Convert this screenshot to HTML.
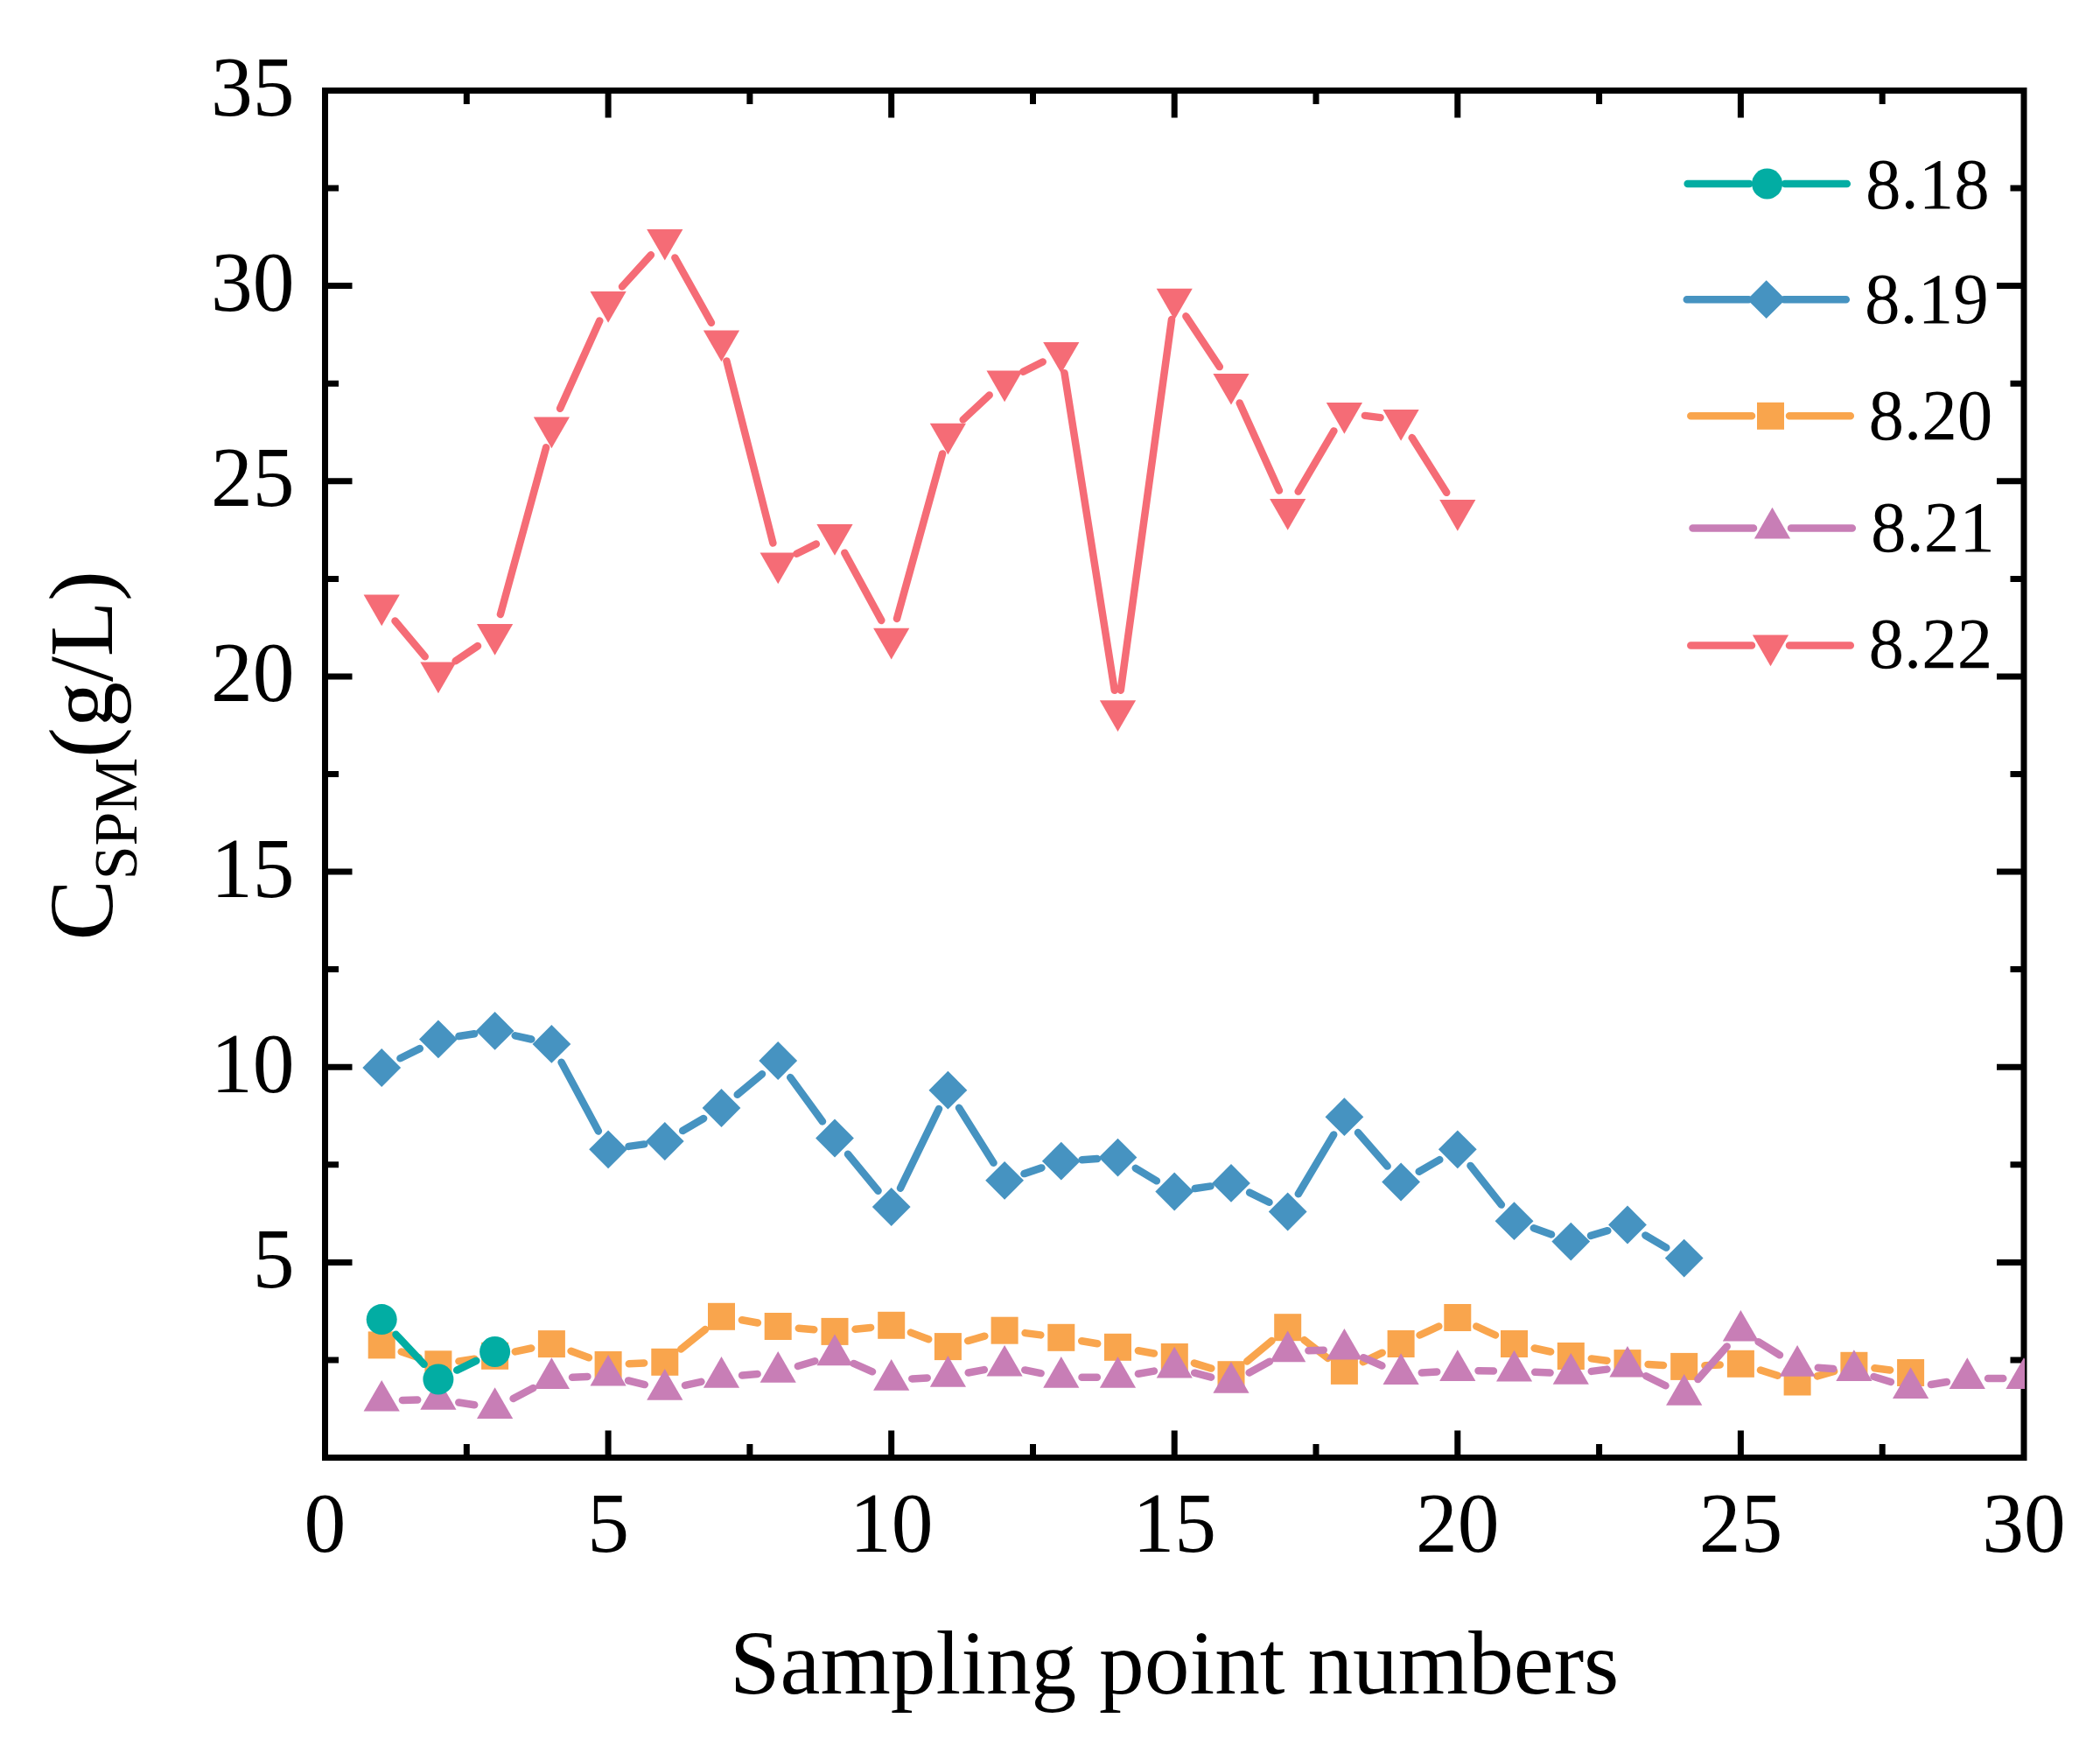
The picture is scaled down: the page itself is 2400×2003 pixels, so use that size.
<!DOCTYPE html>
<html><head><meta charset="utf-8"><title>Chart</title>
<style>
html,body{margin:0;padding:0;background:#fff;}
body{width:2400px;height:2003px;overflow:hidden;}
svg{display:block;font-family:"Liberation Serif",serif;fill:#000;}
</style></head><body>
<svg width="2400" height="2003" viewBox="0 0 2400 2003">
<rect width="2400" height="2003" fill="#fff"/>
<rect x="371.5" y="103.5" width="1941.5" height="1562.0" fill="none" stroke="#000" stroke-width="7"/>
<path d="M533.3 1665.5V1650.0M533.3 103.5V119.0M695.1 1665.5V1634.5M695.1 103.5V134.5M856.9 1665.5V1650.0M856.9 103.5V119.0M1018.7 1665.5V1634.5M1018.7 103.5V134.5M1180.5 1665.5V1650.0M1180.5 103.5V119.0M1342.2 1665.5V1634.5M1342.2 103.5V134.5M1504.0 1665.5V1650.0M1504.0 103.5V119.0M1665.8 1665.5V1634.5M1665.8 103.5V134.5M1827.6 1665.5V1650.0M1827.6 103.5V119.0M1989.4 1665.5V1634.5M1989.4 103.5V134.5M2151.2 1665.5V1650.0M2151.2 103.5V119.0M371.5 1553.9H387.0M2313.0 1553.9H2297.5M371.5 1442.4H402.5M2313.0 1442.4H2282.0M371.5 1330.8H387.0M2313.0 1330.8H2297.5M371.5 1219.2H402.5M2313.0 1219.2H2282.0M371.5 1107.6H387.0M2313.0 1107.6H2297.5M371.5 996.1H402.5M2313.0 996.1H2282.0M371.5 884.5H387.0M2313.0 884.5H2297.5M371.5 772.9H402.5M2313.0 772.9H2282.0M371.5 661.4H387.0M2313.0 661.4H2297.5M371.5 549.8H402.5M2313.0 549.8H2282.0M371.5 438.2H387.0M2313.0 438.2H2297.5M371.5 326.6H402.5M2313.0 326.6H2282.0M371.5 215.1H387.0M2313.0 215.1H2297.5" stroke="#000" stroke-width="7" fill="none"/>
<clipPath id="cp"><rect x="371.5" y="103.5" width="1942.5" height="1562"/></clipPath>
<g clip-path="url(#cp)">
<g><path d="M457.4 1209.3L479.8 1198.1M524.4 1184.0L542.2 1181.3M588.7 1183.3L607.3 1187.5M641.6 1213.8L683.9 1292.4M718.5 1309.9L736.3 1307.4M780.2 1292.0L804.1 1278.0M842.7 1250.8L871.0 1227.2M903.2 1231.1L940.0 1281.4M969.0 1318.8L1003.6 1360.7M1029.0 1357.7L1073.0 1267.0M1096.0 1265.8L1135.5 1328.7M1170.5 1341.1L1190.4 1334.4M1236.5 1325.2L1253.9 1324.1M1297.8 1334.8L1321.9 1349.3M1365.7 1358.0L1383.5 1355.4M1428.1 1362.6L1450.5 1373.8M1483.8 1364.2L1524.2 1296.5M1552.0 1294.1L1585.6 1332.6M1621.7 1338.7L1645.3 1325.1M1680.5 1331.9L1715.9 1376.6M1752.8 1403.3L1773.0 1410.5M1818.0 1411.9L1837.3 1406.2M1880.4 1411.5L1904.3 1425.6" stroke="#4693C1" stroke-width="8.5" stroke-linecap="round" fill="none"/><path d="M436.2 1198.1L458.1 1220.0L436.2 1241.9L414.3 1220.0Z" fill="#4693C1"/><path d="M500.9 1165.5L522.8 1187.4L500.9 1209.3L479.0 1187.4Z" fill="#4693C1"/><path d="M565.6 1156.0L587.5 1177.9L565.6 1199.8L543.8 1177.9Z" fill="#4693C1"/><path d="M630.4 1171.0L652.3 1192.9L630.4 1214.8L608.5 1192.9Z" fill="#4693C1"/><path d="M695.1 1291.4L717.0 1313.3L695.1 1335.2L673.2 1313.3Z" fill="#4693C1"/><path d="M759.8 1282.1L781.7 1304.0L759.8 1325.9L737.9 1304.0Z" fill="#4693C1"/><path d="M824.5 1244.1L846.4 1266.0L824.5 1287.9L802.6 1266.0Z" fill="#4693C1"/><path d="M889.2 1190.1L911.1 1212.0L889.2 1233.9L867.3 1212.0Z" fill="#4693C1"/><path d="M954.0 1278.6L975.9 1300.5L954.0 1322.4L932.1 1300.5Z" fill="#4693C1"/><path d="M1018.7 1357.1L1040.6 1379.0L1018.7 1400.9L996.8 1379.0Z" fill="#4693C1"/><path d="M1083.4 1223.8L1105.3 1245.7L1083.4 1267.6L1061.5 1245.7Z" fill="#4693C1"/><path d="M1148.1 1326.9L1170.0 1348.8L1148.1 1370.7L1126.2 1348.8Z" fill="#4693C1"/><path d="M1212.8 1304.8L1234.7 1326.7L1212.8 1348.6L1190.9 1326.7Z" fill="#4693C1"/><path d="M1277.5 1300.7L1299.4 1322.6L1277.5 1344.5L1255.6 1322.6Z" fill="#4693C1"/><path d="M1342.2 1339.6L1364.2 1361.5L1342.2 1383.4L1320.3 1361.5Z" fill="#4693C1"/><path d="M1407.0 1330.0L1428.9 1351.9L1407.0 1373.8L1385.1 1351.9Z" fill="#4693C1"/><path d="M1471.7 1362.6L1493.6 1384.5L1471.7 1406.4L1449.8 1384.5Z" fill="#4693C1"/><path d="M1536.4 1254.3L1558.3 1276.2L1536.4 1298.1L1514.5 1276.2Z" fill="#4693C1"/><path d="M1601.1 1328.6L1623.0 1350.5L1601.1 1372.4L1579.2 1350.5Z" fill="#4693C1"/><path d="M1665.8 1291.4L1687.7 1313.3L1665.8 1335.2L1643.9 1313.3Z" fill="#4693C1"/><path d="M1730.5 1373.3L1752.5 1395.2L1730.5 1417.1L1708.6 1395.2Z" fill="#4693C1"/><path d="M1795.3 1396.7L1817.2 1418.6L1795.3 1440.5L1773.4 1418.6Z" fill="#4693C1"/><path d="M1860.0 1377.6L1881.9 1399.5L1860.0 1421.4L1838.1 1399.5Z" fill="#4693C1"/><path d="M1924.7 1415.7L1946.6 1437.6L1924.7 1459.5L1902.8 1437.6Z" fill="#4693C1"/></g>
<g><path d="M458.7 1544.5L478.5 1551.2M524.4 1555.4L542.2 1552.7M588.8 1544.4L607.2 1540.5M652.6 1543.8L672.9 1551.3M718.8 1558.3L736.1 1557.5M778.3 1541.5L806.0 1519.1M847.9 1508.3L865.9 1511.5M912.8 1517.7L930.3 1519.2M977.5 1518.8L995.1 1516.9M1040.9 1522.6L1061.2 1530.3M1106.2 1532.1L1125.3 1526.7M1171.6 1523.1L1189.3 1525.4M1236.2 1532.3L1254.2 1535.3M1300.9 1543.3L1318.9 1546.5M1364.9 1557.6L1384.3 1563.6M1425.2 1555.5L1453.5 1531.9M1490.5 1531.1L1517.6 1552.0M1557.8 1556.2L1579.7 1545.7M1622.6 1525.5L1644.3 1515.5M1687.3 1515.5L1709.0 1525.5M1753.7 1540.5L1772.1 1544.5M1818.8 1552.4L1836.5 1554.7M1883.6 1559.0L1901.0 1560.0M1948.4 1560.3L1965.7 1559.4M2012.0 1565.5L2031.6 1571.8M2076.9 1572.4L2096.1 1566.9M2142.4 1563.3L2160.1 1565.5" stroke="#F9A54D" stroke-width="8.5" stroke-linecap="round" fill="none"/><rect x="420.7" y="1521.4" width="31.0" height="31.0" fill="#F9A54D"/><rect x="485.4" y="1543.3" width="31.0" height="31.0" fill="#F9A54D"/><rect x="550.1" y="1533.8" width="31.0" height="31.0" fill="#F9A54D"/><rect x="614.9" y="1520.1" width="31.0" height="31.0" fill="#F9A54D"/><rect x="679.6" y="1544.0" width="31.0" height="31.0" fill="#F9A54D"/><rect x="744.3" y="1540.8" width="31.0" height="31.0" fill="#F9A54D"/><rect x="809.0" y="1488.8" width="31.0" height="31.0" fill="#F9A54D"/><rect x="873.7" y="1500.0" width="31.0" height="31.0" fill="#F9A54D"/><rect x="938.5" y="1505.9" width="31.0" height="31.0" fill="#F9A54D"/><rect x="1003.2" y="1498.8" width="31.0" height="31.0" fill="#F9A54D"/><rect x="1067.9" y="1523.1" width="31.0" height="31.0" fill="#F9A54D"/><rect x="1132.6" y="1504.7" width="31.0" height="31.0" fill="#F9A54D"/><rect x="1197.3" y="1512.8" width="31.0" height="31.0" fill="#F9A54D"/><rect x="1262.0" y="1523.8" width="31.0" height="31.0" fill="#F9A54D"/><rect x="1326.8" y="1535.0" width="31.0" height="31.0" fill="#F9A54D"/><rect x="1391.5" y="1555.2" width="31.0" height="31.0" fill="#F9A54D"/><rect x="1456.2" y="1501.2" width="31.0" height="31.0" fill="#F9A54D"/><rect x="1520.9" y="1550.9" width="31.0" height="31.0" fill="#F9A54D"/><rect x="1585.6" y="1520.0" width="31.0" height="31.0" fill="#F9A54D"/><rect x="1650.3" y="1490.0" width="31.0" height="31.0" fill="#F9A54D"/><rect x="1715.0" y="1520.0" width="31.0" height="31.0" fill="#F9A54D"/><rect x="1779.8" y="1534.0" width="31.0" height="31.0" fill="#F9A54D"/><rect x="1844.5" y="1542.1" width="31.0" height="31.0" fill="#F9A54D"/><rect x="1909.2" y="1545.9" width="31.0" height="31.0" fill="#F9A54D"/><rect x="1973.9" y="1542.8" width="31.0" height="31.0" fill="#F9A54D"/><rect x="2038.6" y="1563.5" width="31.0" height="31.0" fill="#F9A54D"/><rect x="2103.4" y="1544.8" width="31.0" height="31.0" fill="#F9A54D"/><rect x="2168.1" y="1553.0" width="31.0" height="31.0" fill="#F9A54D"/></g>
<g><path d="M459.9 1600.0L477.2 1599.5M524.3 1602.5L542.2 1605.3M586.6 1598.0L609.4 1586.0M654.0 1573.8L671.4 1572.9M718.1 1577.5L736.8 1582.1M783.0 1582.9L801.4 1578.8M848.1 1571.6L865.6 1570.1M911.9 1561.0L931.3 1555.2M975.6 1557.9L997.0 1567.3M1042.3 1575.4L1059.7 1574.4M1106.7 1568.5L1124.8 1565.1M1171.3 1565.4L1189.6 1569.1M1236.5 1573.8L1253.8 1573.8M1300.9 1569.8L1318.9 1566.6M1365.2 1568.7L1384.1 1573.7M1427.7 1568.4L1450.9 1555.7M1495.4 1543.3L1512.7 1542.7M1558.1 1551.2L1579.4 1560.5M1624.8 1568.5L1642.2 1567.5M1689.5 1566.2L1706.9 1566.4M1754.2 1567.8L1771.6 1568.6M1818.8 1566.9L1836.5 1564.6M1881.2 1572.2L1903.5 1583.3M1940.4 1576.1L1973.7 1538.4M2009.6 1533.2L2034.0 1548.3M2077.8 1562.7L2095.2 1564.1M2141.5 1573.0L2160.9 1579.0M2206.9 1582.0L2224.9 1579.0M2272.0 1575.0L2289.3 1575.0" stroke="#C87EB6" stroke-width="8.5" stroke-linecap="round" fill="none"/><path d="M436.2 1576.9L456.8 1612.6L415.6 1612.6Z" fill="#C87EB6"/><path d="M500.9 1575.0L521.5 1610.7L480.3 1610.7Z" fill="#C87EB6"/><path d="M565.6 1585.2L586.2 1620.9L545.0 1620.9Z" fill="#C87EB6"/><path d="M630.4 1551.2L651.0 1586.9L609.8 1586.9Z" fill="#C87EB6"/><path d="M695.1 1547.9L715.7 1583.6L674.5 1583.6Z" fill="#C87EB6"/><path d="M759.8 1564.1L780.4 1599.8L739.2 1599.8Z" fill="#C87EB6"/><path d="M824.5 1550.0L845.1 1585.7L803.9 1585.7Z" fill="#C87EB6"/><path d="M889.2 1544.1L909.8 1579.8L868.6 1579.8Z" fill="#C87EB6"/><path d="M954.0 1524.5L974.6 1560.2L933.4 1560.2Z" fill="#C87EB6"/><path d="M1018.7 1553.1L1039.3 1588.8L998.1 1588.8Z" fill="#C87EB6"/><path d="M1083.4 1549.1L1104.0 1584.8L1062.8 1584.8Z" fill="#C87EB6"/><path d="M1148.1 1536.9L1168.7 1572.6L1127.5 1572.6Z" fill="#C87EB6"/><path d="M1212.8 1550.0L1233.4 1585.7L1192.2 1585.7Z" fill="#C87EB6"/><path d="M1277.5 1550.0L1298.1 1585.7L1256.9 1585.7Z" fill="#C87EB6"/><path d="M1342.2 1538.8L1362.8 1574.5L1321.7 1574.5Z" fill="#C87EB6"/><path d="M1407.0 1556.0L1427.6 1591.7L1386.4 1591.7Z" fill="#C87EB6"/><path d="M1471.7 1520.5L1492.3 1556.2L1451.1 1556.2Z" fill="#C87EB6"/><path d="M1536.4 1517.9L1557.0 1553.6L1515.8 1553.6Z" fill="#C87EB6"/><path d="M1601.1 1546.2L1621.7 1581.9L1580.5 1581.9Z" fill="#C87EB6"/><path d="M1665.8 1542.2L1686.4 1577.9L1645.2 1577.9Z" fill="#C87EB6"/><path d="M1730.5 1542.8L1751.1 1578.5L1710.0 1578.5Z" fill="#C87EB6"/><path d="M1795.3 1546.0L1815.9 1581.7L1774.7 1581.7Z" fill="#C87EB6"/><path d="M1860.0 1537.9L1880.6 1573.6L1839.4 1573.6Z" fill="#C87EB6"/><path d="M1924.7 1570.0L1945.3 1605.7L1904.1 1605.7Z" fill="#C87EB6"/><path d="M1989.4 1496.9L2010.0 1532.6L1968.8 1532.6Z" fill="#C87EB6"/><path d="M2054.1 1537.0L2074.7 1572.7L2033.5 1572.7Z" fill="#C87EB6"/><path d="M2118.9 1542.2L2139.5 1577.9L2098.3 1577.9Z" fill="#C87EB6"/><path d="M2183.6 1562.2L2204.2 1597.9L2163.0 1597.9Z" fill="#C87EB6"/><path d="M2248.3 1551.2L2268.9 1586.9L2227.7 1586.9Z" fill="#C87EB6"/><path d="M2313.0 1551.2L2333.6 1586.9L2292.4 1586.9Z" fill="#C87EB6"/></g>
<g><path d="M451.5 709.5L485.7 750.3M520.6 755.2L546.0 738.1M571.9 702.0L624.1 511.3M640.1 466.8L685.3 366.6M711.0 327.5L743.9 291.3M771.4 294.5L812.9 368.8M830.4 412.5L883.4 620.5M910.4 632.8L932.8 621.6M965.3 631.7L1007.3 708.9M1025.0 706.9L1077.1 518.4M1100.7 479.5L1130.7 451.5M1169.3 424.7L1191.7 413.5M1216.5 426.2L1273.8 788.8M1280.8 788.7L1339.0 365.1M1355.4 361.3L1393.8 419.1M1416.7 460.4L1461.9 560.4M1483.7 561.6L1524.4 492.4M1559.9 474.9L1577.6 477.1M1613.7 500.1L1653.2 562.8" stroke="#F56C76" stroke-width="8.5" stroke-linecap="round" fill="none"/><path d="M436.2 715.2L456.8 679.5L415.6 679.5Z" fill="#F56C76"/><path d="M500.9 792.2L521.5 756.5L480.3 756.5Z" fill="#F56C76"/><path d="M565.6 748.7L586.2 713.0L545.0 713.0Z" fill="#F56C76"/><path d="M630.4 512.2L651.0 476.5L609.8 476.5Z" fill="#F56C76"/><path d="M695.1 368.8L715.7 333.1L674.5 333.1Z" fill="#F56C76"/><path d="M759.8 297.6L780.4 261.9L739.2 261.9Z" fill="#F56C76"/><path d="M824.5 413.3L845.1 377.6L803.9 377.6Z" fill="#F56C76"/><path d="M889.2 667.3L909.8 631.6L868.6 631.6Z" fill="#F56C76"/><path d="M954.0 634.7L974.6 599.0L933.4 599.0Z" fill="#F56C76"/><path d="M1018.7 753.5L1039.3 717.8L998.1 717.8Z" fill="#F56C76"/><path d="M1083.4 519.4L1104.0 483.7L1062.8 483.7Z" fill="#F56C76"/><path d="M1148.1 459.2L1168.7 423.5L1127.5 423.5Z" fill="#F56C76"/><path d="M1212.8 426.6L1233.4 390.9L1192.2 390.9Z" fill="#F56C76"/><path d="M1277.5 836.0L1298.1 800.3L1256.9 800.3Z" fill="#F56C76"/><path d="M1342.2 365.4L1362.8 329.7L1321.7 329.7Z" fill="#F56C76"/><path d="M1407.0 462.6L1427.6 426.9L1386.4 426.9Z" fill="#F56C76"/><path d="M1471.7 605.8L1492.3 570.1L1451.1 570.1Z" fill="#F56C76"/><path d="M1536.4 495.8L1557.0 460.1L1515.8 460.1Z" fill="#F56C76"/><path d="M1601.1 503.8L1621.7 468.1L1580.5 468.1Z" fill="#F56C76"/><path d="M1665.8 606.7L1686.4 571.0L1645.2 571.0Z" fill="#F56C76"/></g>
<g><path d="M452.5 1524.8L484.6 1558.8M522.2 1565.6L544.3 1554.9" stroke="#02ADA3" stroke-width="8.5" stroke-linecap="round" fill="none"/><circle cx="436.2" cy="1507.6" r="17.5" fill="#02ADA3"/><circle cx="500.9" cy="1576.0" r="17.5" fill="#02ADA3"/><circle cx="565.6" cy="1544.5" r="17.5" fill="#02ADA3"/></g>
</g>
<g font-size="98.4"><text x="371.5" y="1773.3" text-anchor="middle" textLength="47.8" lengthAdjust="spacingAndGlyphs">0</text><text x="695.1" y="1773.3" text-anchor="middle" textLength="47.8" lengthAdjust="spacingAndGlyphs">5</text><text x="1018.7" y="1773.3" text-anchor="middle" textLength="95.5" lengthAdjust="spacingAndGlyphs">10</text><text x="1342.2" y="1773.3" text-anchor="middle" textLength="95.5" lengthAdjust="spacingAndGlyphs">15</text><text x="1665.8" y="1773.3" text-anchor="middle" textLength="95.5" lengthAdjust="spacingAndGlyphs">20</text><text x="1989.4" y="1773.3" text-anchor="middle" textLength="95.5" lengthAdjust="spacingAndGlyphs">25</text><text x="2313.0" y="1773.3" text-anchor="middle" textLength="95.5" lengthAdjust="spacingAndGlyphs">30</text><text x="336.5" y="1470.9" text-anchor="end" textLength="47.8" lengthAdjust="spacingAndGlyphs">5</text><text x="336.5" y="1247.7" text-anchor="end" textLength="95.5" lengthAdjust="spacingAndGlyphs">10</text><text x="336.5" y="1024.6" text-anchor="end" textLength="95.5" lengthAdjust="spacingAndGlyphs">15</text><text x="336.5" y="801.4" text-anchor="end" textLength="95.5" lengthAdjust="spacingAndGlyphs">20</text><text x="336.5" y="578.3" text-anchor="end" textLength="95.5" lengthAdjust="spacingAndGlyphs">25</text><text x="336.5" y="355.1" text-anchor="end" textLength="95.5" lengthAdjust="spacingAndGlyphs">30</text><text x="336.5" y="132.0" text-anchor="end" textLength="95.5" lengthAdjust="spacingAndGlyphs">35</text></g>
<text x="1342.2" y="1935" font-size="104" text-anchor="middle" textLength="1016.3" lengthAdjust="spacingAndGlyphs">Sampling point numbers</text>
<text transform="translate(127.5 863.3) rotate(-90)" font-size="104" text-anchor="middle">C<tspan font-size="69.7" dy="28">SPM</tspan><tspan dy="-28">(g/L)</tspan></text>
<path d="M1928.7 210.0H1999.3M2039.9 210.0H2110.8" stroke="#02ADA3" stroke-width="8.5" stroke-linecap="round" fill="none"/>
<circle cx="2019.6" cy="210.0" r="17.5" fill="#02ADA3"/>
<text x="2132.0" y="237.6" font-size="83.5" textLength="141.9" lengthAdjust="spacingAndGlyphs">8.18</text>
<path d="M1927.8 342.2H1998.4M2039.0 342.2H2109.8" stroke="#4693C1" stroke-width="8.5" stroke-linecap="round" fill="none"/>
<path d="M2018.7 320.3L2040.6 342.2L2018.7 364.1L1996.8 342.2Z" fill="#4693C1"/>
<text x="2131.0" y="369.4" font-size="83.5" textLength="141.9" lengthAdjust="spacingAndGlyphs">8.19</text>
<path d="M1932.3 475.3H2002.0M2045.0 475.3H2114.8" stroke="#F9A54D" stroke-width="8.5" stroke-linecap="round" fill="none"/>
<rect x="2008.0" y="459.8" width="31.0" height="31.0" fill="#F9A54D"/>
<text x="2135.5" y="502.4" font-size="83.5" textLength="141.9" lengthAdjust="spacingAndGlyphs">8.20</text>
<path d="M1934.5 603.6H2004.0M2047.0 603.6H2116.8" stroke="#C87EB6" stroke-width="8.5" stroke-linecap="round" fill="none"/>
<path d="M2025.5 579.8L2046.1 615.5L2004.9 615.5Z" fill="#C87EB6"/>
<text x="2137.9" y="630.0" font-size="83.5" textLength="141.9" lengthAdjust="spacingAndGlyphs">8.21</text>
<path d="M1932.3 737.4H2002.0M2045.0 737.4H2114.8" stroke="#F56C76" stroke-width="8.5" stroke-linecap="round" fill="none"/>
<path d="M2023.5 761.2L2044.1 725.5L2002.9 725.5Z" fill="#F56C76"/>
<text x="2135.5" y="763.4" font-size="83.5" textLength="141.9" lengthAdjust="spacingAndGlyphs">8.22</text>
</svg>
</body></html>
